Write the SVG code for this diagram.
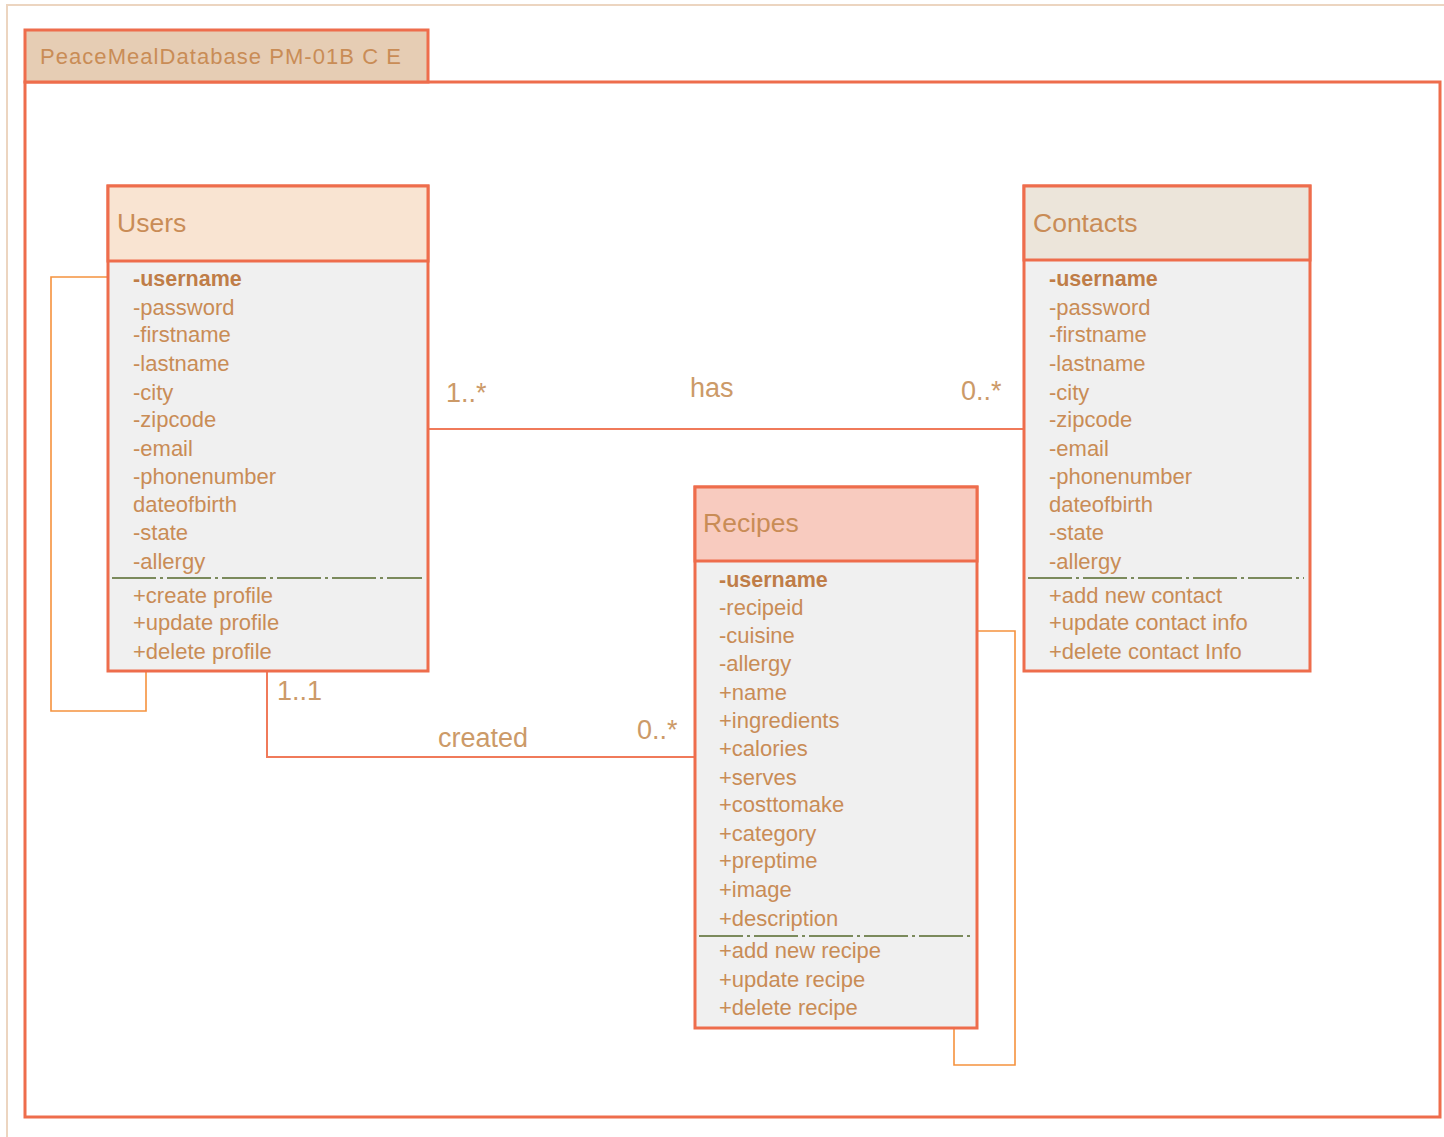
<svg xmlns="http://www.w3.org/2000/svg" width="1444" height="1137" viewBox="0 0 1444 1137">
  <style>
    text { font-family: "Liberation Sans", Arial, sans-serif; fill: #c98c56; }
    .attr { font-size: 22px; }
    .key { font-size: 21.5px; font-weight: bold; fill: #bf7d48; }
    .title { font-size: 26.5px; }
    .lbl { font-size: 27px; fill: #cc9a68; }
    .box { stroke: #ee6d4c; stroke-width: 3; }
    .body { fill: #f0f0f0; }
    .sep { stroke: #7b8a5c; stroke-width: 2; stroke-dasharray: 44 4 3 4; fill: none; }
    .assoc { stroke: #f07a5a; stroke-width: 2; fill: none; }
    .loop { stroke: #f5923e; stroke-width: 1.6; fill: none; }
  </style>

  <!-- page edge -->
  <polyline points="7,1137 7,5 1444,5" fill="none" stroke="#ecd5c0" stroke-width="2"/>

  <!-- package frame -->
  <g id="package">
    <rect x="25" y="82" width="1415" height="1035" fill="#ffffff" class="box"/>
    <rect x="25" y="30" width="403" height="52" fill="#e6cdb4" class="box"/>
    <text x="40" y="64" font-size="22" letter-spacing="1.05" fill="#cb945f">PeaceMealDatabase PM-01B C E</text>
  </g>

  <!-- connectors -->
  <g id="connectors">
    <line class="assoc" x1="428" y1="429" x2="1024" y2="429"/>
    <polyline class="assoc" points="267,671 267,757 695,757"/>
    <polyline class="loop" points="108,277 51,277 51,711 146,711 146,671"/>
    <polyline class="loop" points="977,631 1015,631 1015,1065 954,1065 954,1028"/>
    <text class="lbl" x="446" y="402">1..*</text>
    <text class="lbl" x="690" y="397">has</text>
    <text class="lbl" x="961" y="400">0..*</text>
    <text class="lbl" x="277" y="700">1..1</text>
    <text class="lbl" x="438" y="747">created</text>
    <text class="lbl" x="637" y="739">0..*</text>
  </g>

  <!-- Users class -->
  <g id="users">
    <rect x="108" y="186" width="320" height="485" class="box body"/>
    <rect x="108" y="186" width="320" height="75" fill="#f9e4d2" class="box"/>
    <text class="title" x="117" y="232">Users</text>
    <text class="key" x="133" y="286">-username</text>
    <text class="attr" x="133" y="315">-password</text>
    <text class="attr" x="133" y="342">-firstname</text>
    <text class="attr" x="133" y="371">-lastname</text>
    <text class="attr" x="133" y="400">-city</text>
    <text class="attr" x="133" y="427">-zipcode</text>
    <text class="attr" x="133" y="456">-email</text>
    <text class="attr" x="133" y="484">-phonenumber</text>
    <text class="attr" x="133" y="512">dateofbirth</text>
    <text class="attr" x="133" y="540">-state</text>
    <text class="attr" x="133" y="569">-allergy</text>
    <line class="sep" x1="112" y1="578" x2="422" y2="578"/>
    <text class="attr" x="133" y="603">+create profile</text>
    <text class="attr" x="133" y="630">+update profile</text>
    <text class="attr" x="133" y="659">+delete profile</text>
  </g>

  <!-- Contacts class -->
  <g id="contacts">
    <rect x="1024" y="186" width="286" height="485" class="box body"/>
    <rect x="1024" y="186" width="286" height="74" fill="#ece5da" class="box"/>
    <text class="title" x="1033" y="232">Contacts</text>
    <text class="key" x="1049" y="286">-username</text>
    <text class="attr" x="1049" y="315">-password</text>
    <text class="attr" x="1049" y="342">-firstname</text>
    <text class="attr" x="1049" y="371">-lastname</text>
    <text class="attr" x="1049" y="400">-city</text>
    <text class="attr" x="1049" y="427">-zipcode</text>
    <text class="attr" x="1049" y="456">-email</text>
    <text class="attr" x="1049" y="484">-phonenumber</text>
    <text class="attr" x="1049" y="512">dateofbirth</text>
    <text class="attr" x="1049" y="540">-state</text>
    <text class="attr" x="1049" y="569">-allergy</text>
    <line class="sep" x1="1028" y1="578" x2="1304" y2="578"/>
    <text class="attr" x="1049" y="603">+add new contact</text>
    <text class="attr" x="1049" y="630">+update contact info</text>
    <text class="attr" x="1049" y="659">+delete contact Info</text>
  </g>

  <!-- Recipes class -->
  <g id="recipes">
    <rect x="695" y="487" width="282" height="541" class="box body"/>
    <rect x="695" y="487" width="282" height="74" fill="#f8cbbf" class="box"/>
    <text class="title" x="703" y="532">Recipes</text>
    <text class="key" x="719" y="587">-username</text>
    <text class="attr" x="719" y="615">-recipeid</text>
    <text class="attr" x="719" y="643">-cuisine</text>
    <text class="attr" x="719" y="671">-allergy</text>
    <text class="attr" x="719" y="700">+name</text>
    <text class="attr" x="719" y="728">+ingredients</text>
    <text class="attr" x="719" y="756">+calories</text>
    <text class="attr" x="719" y="785">+serves</text>
    <text class="attr" x="719" y="812">+costtomake</text>
    <text class="attr" x="719" y="841">+category</text>
    <text class="attr" x="719" y="868">+preptime</text>
    <text class="attr" x="719" y="897">+image</text>
    <text class="attr" x="719" y="926">+description</text>
    <line class="sep" x1="699" y1="936" x2="971" y2="936"/>
    <text class="attr" x="719" y="958">+add new recipe</text>
    <text class="attr" x="719" y="987">+update recipe</text>
    <text class="attr" x="719" y="1015">+delete recipe</text>
  </g>
</svg>
